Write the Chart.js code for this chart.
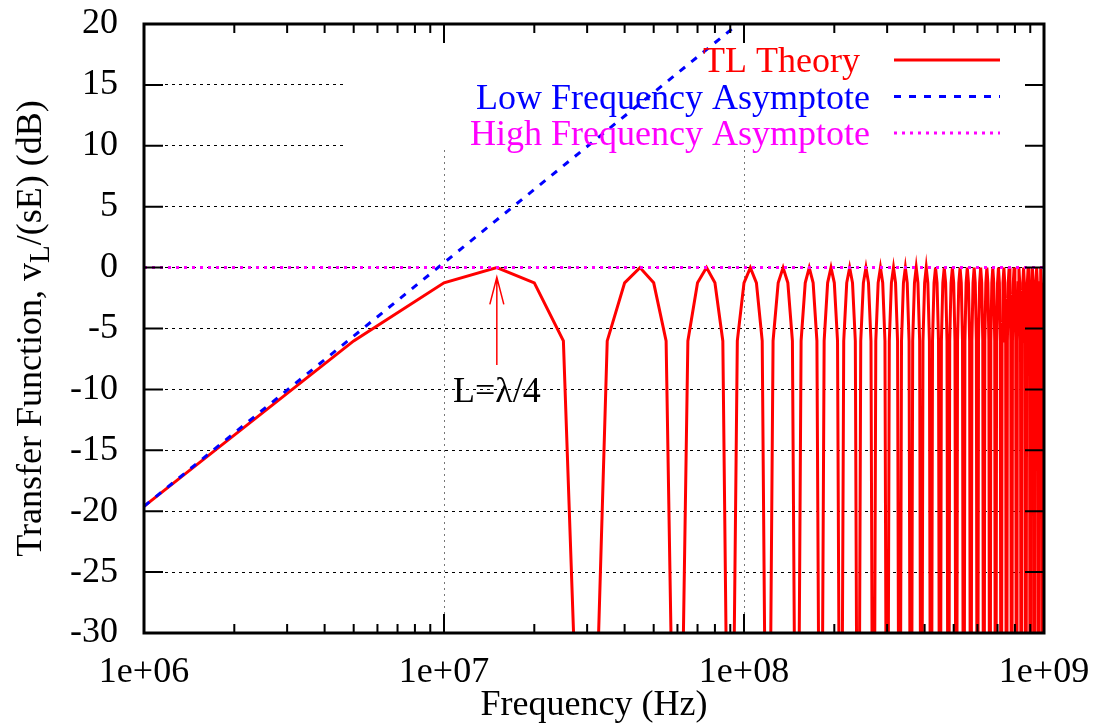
<!DOCTYPE html>
<html>
<head>
<meta charset="utf-8">
<script src="https://cdn.jsdelivr.net/npm/chart.js@4.4.0/dist/chart.umd.min.js"></script>
<style>
  body { margin: 0; background: #fff; }
  #wrap { width: 1095px; height: 726px; }
</style>
</head>
<body>
<div id="wrap"><canvas id="chart" width="1095" height="726"></canvas></div>
<script>
// sample frequencies of the TL curve, in MHz (1 MHz, then every 5 MHz)
const freqMHz = [1,
  5, 10, 15, 20, 25, 30,
  35, 40, 45, 50, 55, 60,
  65, 70, 75, 80, 85, 90,
  95, 100, 105, 110, 115, 120,
  125, 130, 135, 140, 145, 150,
  155, 160, 165, 170, 175, 180,
  185, 190, 195, 200, 205, 210,
  215, 220, 225, 230, 235, 240,
  245, 250, 255, 260, 265, 270,
  275, 280, 285, 290, 295, 300,
  305, 310, 315, 320, 325, 330,
  335, 340, 345, 350, 355, 360,
  365, 370, 375, 380, 385, 390,
  395, 400, 405, 410, 415, 420,
  425, 430, 435, 440, 445, 450,
  455, 460, 465, 470, 475, 480,
  485, 490, 495, 500, 505, 510,
  515, 520, 525, 530, 535, 540,
  545, 550, 555, 560, 565, 570,
  575, 580, 585, 590, 595, 600,
  605, 610, 615, 620, 625, 630,
  635, 640, 645, 650, 655, 660,
  665, 670, 675, 680, 685, 690,
  695, 700, 705, 710, 715, 720,
  725, 730, 735, 740, 745, 750,
  755, 760, 765, 770, 775, 780,
  785, 790, 795, 800, 805, 810,
  815, 820, 825, 830, 835, 840,
  845, 850, 855, 860, 865, 870,
  875, 880, 885, 890, 895, 900,
  905, 910, 915, 920, 925, 930,
  935, 940, 945, 950, 955, 960,
  965, 970, 975, 980, 985, 990,
  995, 1000];

// TL theory transfer function in dB (nulls fall far below the -30 floor)
const tlTheoryDb = [-19.6,
  -6.02, -1.25, 0, -1.25, -6.02, -62,
  -6.02, -1.25, 0, -1.25, -6.02, -62,
  -6.02, -1.25, 0, -1.25, -6.02, -62,
  -6.02, -1.25, 0, -1.25, -6.02, -62,
  -6.02, -1.25, 0, -1.25, -6.02, -62,
  -6.02, -1.25, 0, -1.25, -6.02, -62,
  -6.02, -1.25, 0, -1.25, -6.02, -62,
  -6.02, -1.25, 0, -1.25, -6.02, -62,
  -6.02, -1.25, 0, -1.25, -6.02, -62,
  -6.02, -1.25, 0, -1.25, -6.02, -62,
  -6.02, -1.25, 0, -1.25, -6.02, -62,
  -6.02, -1.25, 0, -1.25, -6.02, -62,
  -6.02, -1.25, 0, -1.25, -6.02, -62,
  -6.02, -1.25, 0, -1.25, -6.02, -62,
  -6.02, -1.25, 0, -1.25, -6.02, -62,
  -6.02, -1.25, 0, -1.25, -6.02, -62,
  -6.02, -1.25, 0, -1.25, -6.02, -62,
  -6.02, -1.25, 0, -1.25, -6.02, -62,
  -6.02, -1.25, 0, -1.25, -6.02, -62,
  -6.02, -1.25, 0, -1.25, -6.02, -62,
  -6.02, -1.25, 0, -1.25, -6.02, -62,
  -6.02, -1.25, 0, -1.25, -6.02, -62,
  -6.02, -1.25, 0, -1.25, -6.02, -62,
  -6.02, -1.25, 0, -1.25, -6.02, -62,
  -6.02, -1.25, 0, -1.25, -6.02, -62,
  -6.02, -1.25, 0, -1.25, -6.02, -62,
  -6.02, -1.25, 0, -1.25, -6.02, -62,
  -6.02, -1.25, 0, -1.25, -6.02, -62,
  -6.02, -1.25, 0, -1.25, -6.02, -62,
  -6.02, -1.25, 0, -1.25, -6.02, -62,
  -6.02, -1.25, 0, -1.25, -6.02, -62,
  -6.02, -1.25, 0, -1.25, -6.02, -62,
  -6.02, -1.25, 0, -1.25, -6.02, -62,
  -6.02, -1.25];

// asymptotes (straight lines on the log axis)
const lowAsymFreq = [1e6, 1e8];
const lowAsymDb = [-19.6, 20.4];
const highAsymFreq = [1e6, 1e9];
const highAsymDb = [0, 0];

// axes
const xMajorTicks = [1e6, 1e7, 1e8, 1e9];
const xTickLabels = ['1e+06', '1e+07', '1e+08', '1e+09'];
const xMinorMult = [2, 3, 4, 5, 6, 7, 8, 9];
const yMin = -30, yMax = 20, yStep = 5;

// annotation
const noteFreq = 1.5e7;
const noteText = 'L=\u03bb/4';
const noteTextDb = -11.0;
const arrowFromDb = -8.0;
const arrowToDb = -0.8;

const FONT = '"Liberation Serif", "Times New Roman", serif';
const FS = 36;
const keyTextRight = [860, 870, 870];

function toPoints(xs, ys, scale) {
    return xs.map((x, i) => ({ x: x * scale, y: ys[i] }));
}

// gnuplot leaves the grid out where the key sits
const keyMask = {
    id: 'keyMask',
    beforeDatasetsDraw(chart) {
        const { ctx, chartArea: a } = chart;
        ctx.save();
        ctx.fillStyle = '#fff';
        ctx.fillRect(347, a.top, a.right - 347, 150 - a.top);
        ctx.restore();
    }
};

const overlay = {
    id: 'overlay',
    afterDraw(chart) {
        const { ctx, chartArea: a } = chart;
        const xs = chart.scales.x, ys = chart.scales.y;
        ctx.save();

        // key
        ctx.font = `${FS}px ${FONT}`;
        ctx.textAlign = 'right';
        ctx.textBaseline = 'alphabetic';
        chart.data.datasets.forEach((ds, i) => {
            const rowY = 60 + i * 36.5;
            ctx.fillStyle = ds.borderColor;
            ctx.fillText(ds.label, keyTextRight[i], rowY + 12);
            ctx.strokeStyle = ds.borderColor;
            ctx.lineWidth = ds.borderWidth;
            ctx.setLineDash(ds.borderDash || []);
            ctx.beginPath();
            ctx.moveTo(894, rowY);
            ctx.lineTo(1000, rowY);
            ctx.stroke();
        });
        ctx.setLineDash([]);

        // annotation arrow + label
        const px = xs.getPixelForValue(noteFreq);
        const yFrom = ys.getPixelForValue(arrowFromDb);
        const yTo = ys.getPixelForValue(arrowToDb);
        ctx.strokeStyle = '#ff0000';
        ctx.lineWidth = 1.5;
        ctx.beginPath();
        ctx.moveTo(px, yFrom);
        ctx.lineTo(px, yTo);
        ctx.moveTo(px - 7, yTo + 27);
        ctx.lineTo(px, yTo);
        ctx.lineTo(px + 7, yTo + 27);
        ctx.stroke();
        ctx.fillStyle = '#000';
        ctx.textAlign = 'center';
        ctx.fillText(noteText, px, ys.getPixelForValue(noteTextDb));

        // border
        ctx.strokeStyle = '#000';
        ctx.lineWidth = 3;
        ctx.strokeRect(a.left, a.top, a.right - a.left, a.bottom - a.top);

        // inward ticks
        ctx.lineWidth = 2;
        ctx.beginPath();
        for (let v = yMin + yStep; v < yMax; v += yStep) {
            const py = ys.getPixelForValue(v);
            ctx.moveTo(a.left, py); ctx.lineTo(a.left + 19, py);
            ctx.moveTo(a.right, py); ctx.lineTo(a.right - 19, py);
        }
        xMajorTicks.forEach((dec, i) => {
            const p = xs.getPixelForValue(dec);
            if (i > 0 && i < xMajorTicks.length - 1) {
                ctx.moveTo(p, a.bottom); ctx.lineTo(p, a.bottom - 19);
                ctx.moveTo(p, a.top); ctx.lineTo(p, a.top + 19);
            }
            if (i < xMajorTicks.length - 1) {
                xMinorMult.forEach(m => {
                    const q = xs.getPixelForValue(dec * m);
                    ctx.moveTo(q, a.bottom); ctx.lineTo(q, a.bottom - 9);
                    ctx.moveTo(q, a.top); ctx.lineTo(q, a.top + 9);
                });
            }
        });
        ctx.stroke();

        // axis titles
        ctx.fillStyle = '#000';
        ctx.font = `${FS}px ${FONT}`;
        ctx.textAlign = 'center';
        ctx.fillText('Frequency (Hz)', (a.left + a.right) / 2, 715);

        const p1 = 'Transfer Function, v', sub = 'L', p3 = '/(sE) (dB)';
        const subFont = `${Math.round(FS * 0.8)}px ${FONT}`;
        const w1 = ctx.measureText(p1).width, w3 = ctx.measureText(p3).width;
        ctx.font = subFont;
        const w2 = ctx.measureText(sub).width;
        ctx.translate(41, (a.top + a.bottom) / 2);
        ctx.rotate(-Math.PI / 2);
        ctx.textAlign = 'left';
        let x0 = -(w1 + w2 + w3) / 2;
        ctx.font = `${FS}px ${FONT}`;
        ctx.fillText(p1, x0, 0); x0 += w1;
        ctx.font = subFont;
        ctx.fillText(sub, x0, 8); x0 += w2;
        ctx.font = `${FS}px ${FONT}`;
        ctx.fillText(p3, x0, 0);

        ctx.restore();
    }
};

new Chart(document.getElementById('chart'), {
    type: 'line',
    data: {
        datasets: [{
            label: 'TL Theory',
            data: toPoints(freqMHz, tlTheoryDb, 1e6),
            borderColor: '#ff0000',
            borderWidth: 3,
            pointRadius: 0,
            tension: 0,
            order: 3
        }, {
            label: 'Low Frequency Asymptote',
            data: toPoints(lowAsymFreq, lowAsymDb, 1),
            borderColor: '#0000ff',
            borderWidth: 3,
            borderDash: [7, 8],
            pointRadius: 0,
            order: 2
        }, {
            label: 'High Frequency Asymptote',
            data: toPoints(highAsymFreq, highAsymDb, 1),
            borderColor: '#ff00ff',
            borderWidth: 3,
            borderDash: [3, 5],
            pointRadius: 0,
            order: 1
        }]
    },
    options: {
        responsive: false,
        animation: false,
        devicePixelRatio: 1,
        layout: { padding: { left: 0, right: 51, top: 24, bottom: 0 } },
        plugins: { legend: { display: false }, tooltip: { enabled: false } },
        scales: {
            x: {
                type: 'logarithmic',
                min: 1e6,
                max: 1e9,
                afterBuildTicks: s => { s.ticks = xMajorTicks.map(v => ({ value: v })); },
                afterFit: s => { s.height = 93; s.paddingLeft = 0; s.paddingRight = 0; },
                ticks: {
                    autoSkip: false,
                    maxRotation: 0,
                    padding: 18,
                    color: '#000',
                    font: { family: FONT, size: FS },
                    callback: v => xTickLabels[xMajorTicks.indexOf(v)] || ''
                },
                grid: { color: '#777', lineWidth: 1, drawTicks: false },
                border: { display: false, dash: [2, 4] }
            },
            y: {
                min: yMin,
                max: yMax,
                afterFit: s => { s.width = 144; s.paddingTop = 0; s.paddingBottom = 0; },
                ticks: {
                    stepSize: yStep,
                    padding: 26,
                    color: '#000',
                    font: { family: FONT, size: FS }
                },
                grid: { color: '#000', lineWidth: 1, drawTicks: false },
                border: { display: false, dash: [3, 4] }
            }
        }
    },
    plugins: [keyMask, overlay]
});
</script>
</body>
</html>
